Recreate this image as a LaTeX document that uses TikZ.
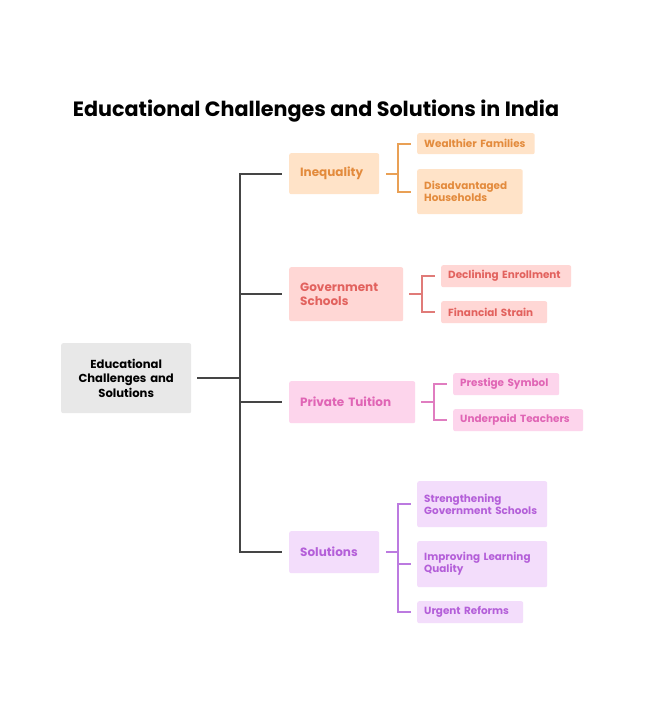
\documentclass[tikz,border=0pt]{standalone}
\usepackage{fontspec}
\setmainfont{Poppins}
\definecolor{peachfill}{HTML}{FFE3C8}
\definecolor{peachtext}{HTML}{E38B3D}
\definecolor{peachline}{HTML}{E9A055}
\definecolor{redfill}{HTML}{FFD7D5}
\definecolor{redtext}{HTML}{E2625E}
\definecolor{redline}{HTML}{E07B78}
\definecolor{pinkfill}{HTML}{FDD5EC}
\definecolor{pinktext}{HTML}{E065B5}
\definecolor{pinkline}{HTML}{E07DC0}
\definecolor{violfill}{HTML}{F3DDFB}
\definecolor{violtext}{HTML}{B45FD9}
\definecolor{violline}{HTML}{BC7AE0}
\definecolor{rootfill}{HTML}{E8E8E8}
\definecolor{trunkcol}{HTML}{454545}
\begin{document}
\begin{tikzpicture}[x=1pt,y=-1pt,
  box/.style={rounded corners=2pt, inner ysep=0pt, anchor=north west, align=left},
  mainbox/.style={box, inner xsep=11pt, font=\bfseries\fontsize{12}{14}\selectfont},
  leaf/.style={box, inner xsep=7pt, font=\bfseries\fontsize{10.4}{12}\selectfont},
  trunk/.style={draw=trunkcol, line width=2pt},
  brk/.style={line width=2pt},
  ineqc/.style={fill=peachfill, text=peachtext},
  govc/.style={fill=redfill, text=redtext},
  privc/.style={fill=pinkfill, text=pinktext},
  solc/.style={fill=violfill, text=violtext}]
\useasboundingbox[fill=white] (0,0) rectangle (644,708);

\node[font=\bfseries\fontsize{20.7}{24}\selectfont] (title) at (316,111) {Educational Challenges and Solutions in India};

\node[box, align=center, fill=rootfill, inner xsep=6pt, minimum width=130pt, minimum height=70pt, text width=118pt,
  font=\bfseries\fontsize{11.6}{14.5}\selectfont] (root) at (61,343) {Educational\\Challenges and\\Solutions};

% main branches
\node[mainbox, ineqc, minimum width=90pt, minimum height=41pt, text width=68pt] (ineq) at (289,153) {Inequality};
\node[mainbox, govc, minimum width=114pt, minimum height=54pt, text width=92pt] (gov) at (289,267) {Government\\Schools};
\node[mainbox, privc, minimum width=126pt, minimum height=42pt, text width=104pt] (priv) at (289,381) {Private Tuition};
\node[mainbox, solc, minimum width=90pt, minimum height=42pt, text width=68pt] (sol) at (289,531) {Solutions};

% leaves
\node[leaf, ineqc, minimum width=117.5pt, minimum height=21pt, text width=103.5pt] (wealth) at (417,133) {Wealthier Families};
\node[leaf, ineqc, minimum width=105.5pt, minimum height=45pt, text width=91.5pt] (disadv) at (417,169) {Disadvantaged\\Households};

\node[leaf, govc, minimum width=130pt, minimum height=22pt, text width=116pt] (decl) at (441,265) {Declining Enrollment};
\node[leaf, govc, minimum width=106pt, minimum height=22pt, text width=92pt] (fin) at (441,301) {Financial Strain};

\node[leaf, privc, minimum width=106pt, minimum height=22pt, text width=92pt] (prest) at (453,373) {Prestige Symbol};
\node[leaf, privc, minimum width=130pt, minimum height=22pt, text width=116pt] (under) at (453,409) {Underpaid Teachers};

\node[leaf, solc, minimum width=130pt, minimum height=46pt, text width=116pt] (streng) at (417,481) {Strengthening\\Government Schools};
\node[leaf, solc, minimum width=130pt, minimum height=46pt, text width=116pt] (improv) at (417,541) {Improving Learning\\Quality};
\node[leaf, solc, minimum width=106pt, minimum height=22pt, text width=92pt] (urgent) at (417,601) {Urgent Reforms};

% trunk connectors
\draw[trunk] ([xshift=6pt]root.east) -- ++(43,0) coordinate (tj) |- ([xshift=-7pt]ineq.west);
\draw[trunk] (tj) |- ([xshift=-7pt]gov.west);
\draw[trunk] (tj) |- ([xshift=-7pt]priv.west);
\draw[trunk] (tj) |- ([xshift=-7pt]sol.west);

% brackets
\draw[brk, peachline] ([xshift=7pt]ineq.east) -- ++(12,0) coordinate (bi) |- ([xshift=-6pt]wealth.west);
\draw[brk, peachline] (bi) |- ([xshift=-6pt]disadv.west);

\draw[brk, redline] ([xshift=6pt]gov.east) -- ++(13,0) coordinate (bg) |- ([xshift=-6pt]decl.west);
\draw[brk, redline] (bg) |- ([xshift=-6pt]fin.west);

\draw[brk, pinkline] ([xshift=6pt]priv.east) -- ++(13,0) coordinate (bp) |- ([xshift=-6pt]prest.west);
\draw[brk, pinkline] (bp) |- ([xshift=-6pt]under.west);

\draw[brk, violline] ([xshift=7pt]sol.east) -- ++(12,0) coordinate (bs) |- ([xshift=-6pt]streng.west);
\draw[brk, violline] (bs) |- ([xshift=-6pt]improv.west);
\draw[brk, violline] (bs) |- ([xshift=-6pt]urgent.west);
\end{tikzpicture}
\end{document}
